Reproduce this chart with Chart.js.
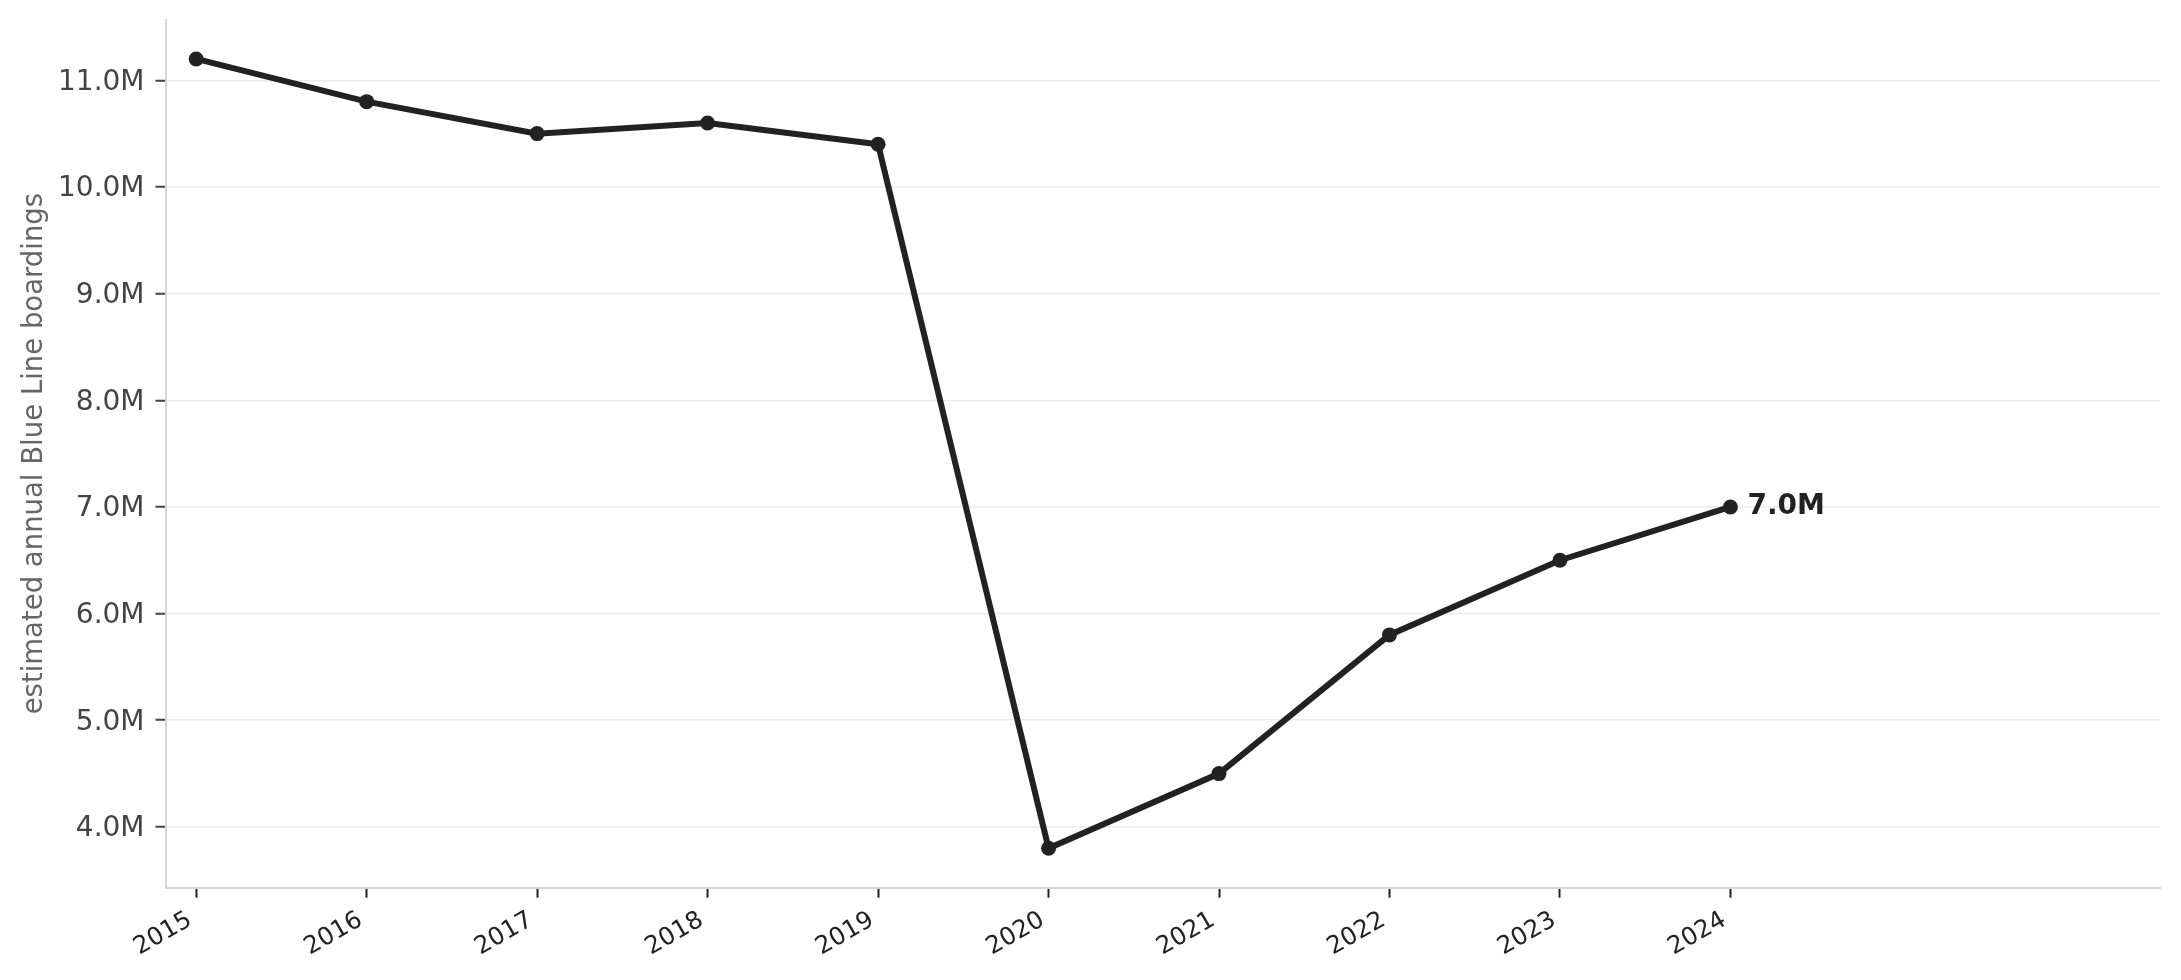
<!DOCTYPE html>
<html>
<head>
<meta charset="utf-8">
<script src="https://cdn.jsdelivr.net/npm/chart.js@4"></script>
<style>
  html, body { margin: 0; padding: 0; background: #fff; }
  #chart { display: block; }
</style>
</head>
<body>
<canvas id="chart" width="2181" height="980"></canvas>
<script>
// Dane (miliony przejazdów)
const years = [2015, 2016, 2017, 2018, 2019, 2020, 2021, 2022, 2023, 2024];
const boardingsM = [11.2, 10.8, 10.5, 10.6, 10.4, 3.8, 4.5, 5.8, 6.5, 7.0];
const yTickValues = [4, 5, 6, 7, 8, 9, 10, 11];
const yAxisTitle = 'estimated annual Blue Line boardings';

const FONT = "'DejaVu Sans', 'Liberation Sans', sans-serif";
const INK = '#222222';

function fmtM(v) {
    return v.toFixed(1) + 'M';
}

// Etykieta przy ostatnim punkcie
const lastLabelPlugin = {
    id: 'lastLabel',
    afterDatasetsDraw(chart) {
        const meta = chart.getDatasetMeta(0);
        const pt = meta.data[meta.data.length - 1];
        const ctx = chart.ctx;
        ctx.save();
        ctx.font = 'bold 28px ' + FONT;
        ctx.fillStyle = INK;
        ctx.textAlign = 'left';
        ctx.textBaseline = 'middle';
        ctx.fillText(fmtM(boardingsM[boardingsM.length - 1]), pt.x + 17, pt.y);
        ctx.restore();
    }
};

// Bez dodatkowych marginesów od etykiet osi
function noScalePadding(scale) {
    scale.paddingTop = 0;
    scale.paddingBottom = 0;
    scale.paddingLeft = 0;
    scale.paddingRight = 0;
}

const points = years.map((y, i) => ({ x: y, y: boardingsM[i] }));

new Chart(document.getElementById('chart').getContext('2d'), {
    type: 'line',
    data: {
        datasets: [{
            data: points,
            borderColor: INK,
            backgroundColor: INK,
            borderWidth: 6,
            tension: 0,
            pointRadius: 7.5,
            pointBorderWidth: 0,
            pointBackgroundColor: INK,
            fill: false
        }]
    },
    plugins: [lastLabelPlugin],
    options: {
        responsive: false,
        devicePixelRatio: 1,
        animation: false,
        layout: { padding: { left: 0, right: 21, top: 19.5, bottom: 0 } },
        plugins: {
            legend: { display: false },
            tooltip: { enabled: false }
        },
        scales: {
            x: {
                type: 'linear',
                min: 2014.82,
                max: 2026.52,
                afterBuildTicks: (scale) => { scale.ticks = years.map(v => ({ value: v })); },
                afterFit: (scale) => { scale.height = 92.3; noScalePadding(scale); },
                grid: {
                    drawOnChartArea: false,
                    drawTicks: true,
                    tickLength: 10,
                    tickWidth: 2,
                    tickColor: INK
                },
                border: { display: true, color: '#d6d6d6', width: 2 },
                ticks: {
                    autoSkip: false,
                    maxRotation: 30,
                    minRotation: 30,
                    padding: 8,
                    labelOffset: -6,
                    color: INK,
                    font: { family: FONT, size: 24.5 },
                    callback: (v) => String(v)
                }
            },
            y: {
                type: 'linear',
                min: 3.43,
                max: 11.57,
                afterBuildTicks: (scale) => { scale.ticks = yTickValues.map(v => ({ value: v })); },
                afterFit: (scale) => { scale.width = 165.5; noScalePadding(scale); },
                grid: {
                    color: '#ebebeb',
                    lineWidth: 1.5,
                    drawTicks: true,
                    tickLength: 10,
                    tickWidth: 2,
                    tickColor: '#444444'
                },
                border: { display: true, color: '#d6d6d6', width: 2 },
                ticks: {
                    padding: 11,
                    labelOffset: 2,
                    color: '#444444',
                    font: { family: FONT, size: 28 },
                    callback: (v) => fmtM(v)
                },
                title: {
                    display: true,
                    text: yAxisTitle,
                    color: '#666666',
                    font: { family: FONT, size: 27.5 },
                    padding: { top: 18, bottom: 0 }
                }
            }
        }
    }
});
</script>
</body>
</html>
